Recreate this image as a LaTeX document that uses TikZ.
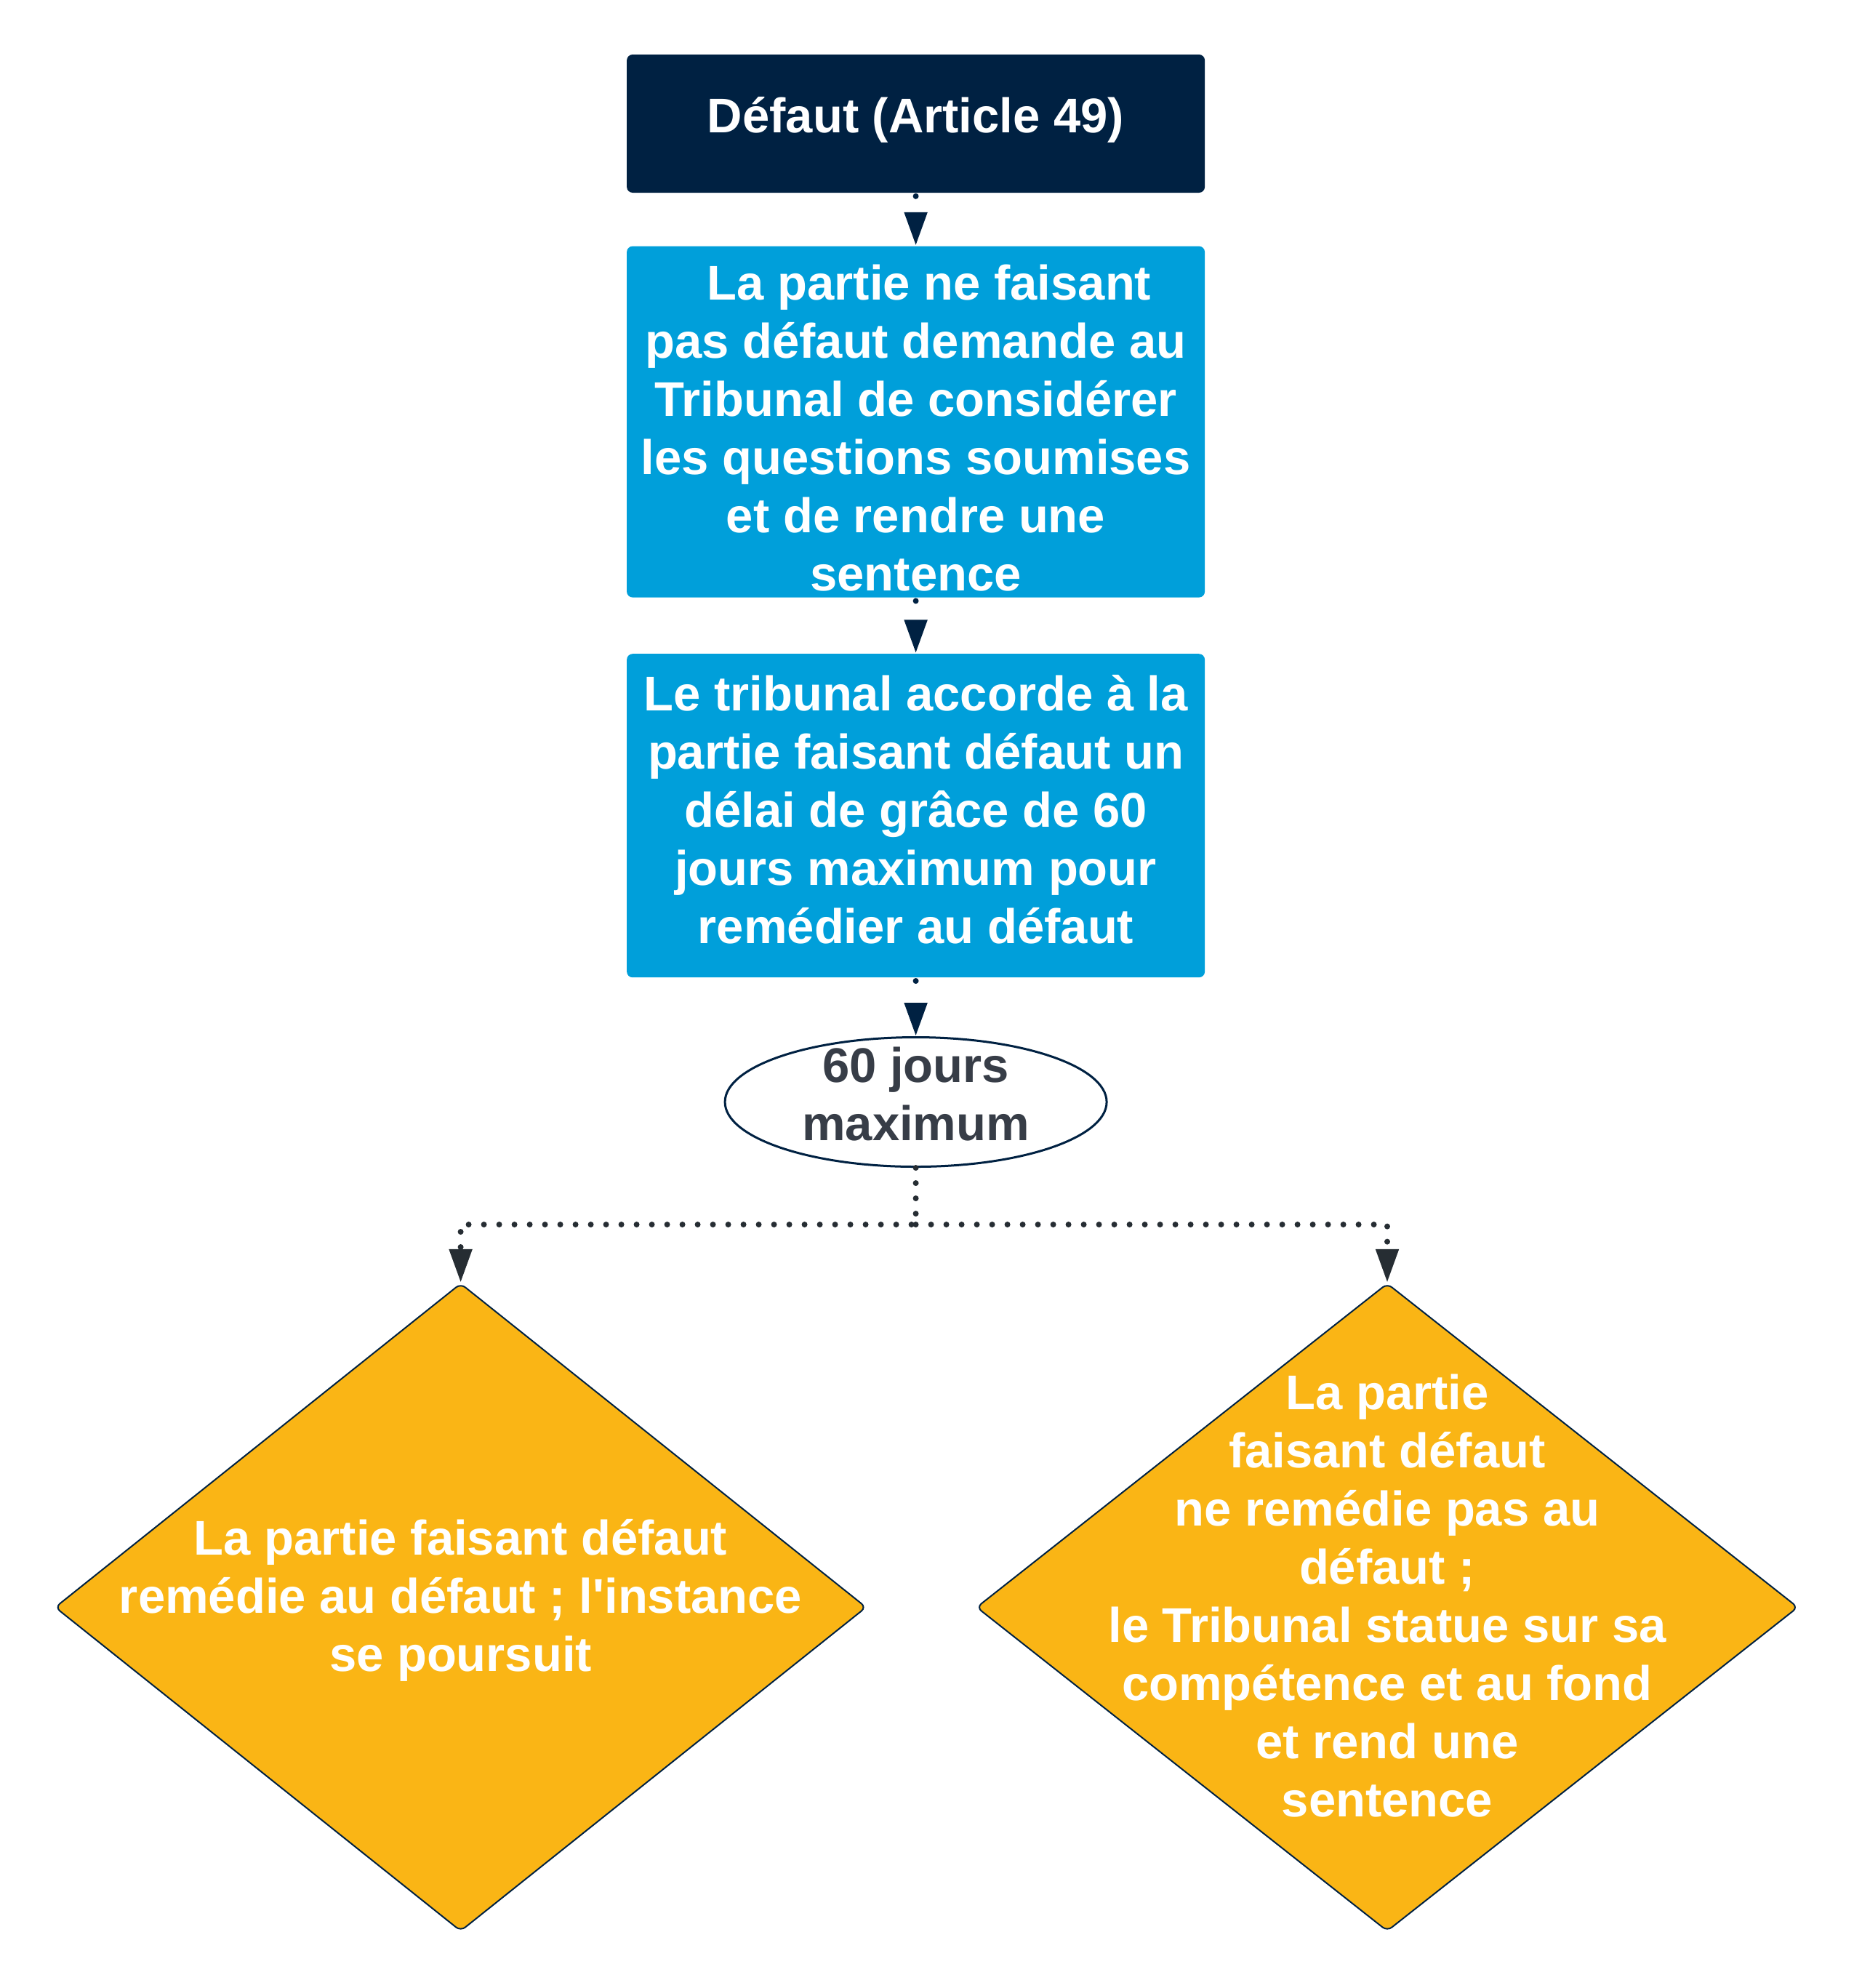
\documentclass[tikz,border=0pt]{standalone}
\usepackage{fontspec}
\setmainfont{Liberation Sans}
\usepackage{tikz}
\usetikzlibrary{positioning, shapes.geometric, arrows.meta}

\definecolor{navy}{HTML}{002142}
\definecolor{skyblue}{HTML}{009FDA}
\definecolor{gold}{HTML}{FAB515}
\definecolor{ink}{HTML}{373D47}
\definecolor{tipgray}{HTML}{262D33}

\tikzset{
	txt/.style={font=\bfseries\fontsize{16.75}{20}\selectfont, align=center},
	box/.style={rectangle, rounded corners=2pt, inner sep=0pt, minimum width=198.75pt},
	dec/.style={shape=diamond, draw=navy, line width=0.5pt, fill=gold, rounded corners=2pt,
		minimum height=222.75pt, inner sep=0pt},
	link/.style={draw=#1, line width=2pt, line cap=round, dash pattern=on 0pt off 5.25pt,
		-{Triangle[length=11.5pt, width=7.5pt, fill=#1, color=#1]}},
	link/.default=navy,
	hop/.style={link, dash pattern=on 0pt off 40pt}
}

\begin{document}
\begin{tikzpicture}
	\useasboundingbox (0,0) rectangle (637.5pt,-683.5pt);

	\node[box, fill=navy, minimum height=47.5pt,
		label={[txt, text=white, yshift=1.3pt]center:Défaut (Article 49)}] (defaut) at (314.9pt,-42.5pt) {};
	\node[box, fill=skyblue, minimum height=120.75pt, below=18pt of defaut,
		label={[txt, text=white, yshift=-2.2pt]center:\hspace*{0.55em}La partie ne faisant\\ pas défaut demande au\\ Tribunal de considérer\\ les questions soumises\\ et de rendre une\\ sentence}] (demande) {};
	\node[box, fill=skyblue, minimum height=111.25pt, below=19pt of demande,
		label={[txt, text=white, yshift=2pt]center:Le tribunal accorde à la\\ partie faisant défaut un\\ délai de grâce de 60\\ jours maximum pour\\ remédier au défaut}] (delai) {};
	\node[ellipse, draw=navy, line width=0.75pt, fill=white, minimum width=131.25pt,
		minimum height=44.5pt, below=20pt of delai,
		label={[txt, text=ink, yshift=2.7pt]center:60 jours\\ maximum}] (jours) {};

	\node[dec, minimum width=279pt,
		label={[txt, text=white, yshift=2.5pt]center:La partie faisant défaut\\ remédie au défaut ; l\textquotesingle instance\\ se poursuit}] (remedie) at (158.4pt,-552.6pt) {};
	\node[dec, minimum width=282.5pt,
		label={[txt, text=white, yshift=4pt]center:La partie\\ faisant défaut\\ ne remédie pas au\\ défaut ;\\ le Tribunal statue sur sa\\ compétence et au fond\\ et rend une\\ sentence}] (statue) at (477pt,-552.6pt) {};

	\draw[hop] ([yshift=-1pt]defaut.south) -- (demande);
	\draw[hop] ([yshift=-1pt]demande.south) -- (delai);
	\draw[hop] ([yshift=-1pt]delai.south) -- (jours);

	\coordinate[below=19.5pt of jours.south] (fork);
	\draw[link=tipgray] (jours.south) -- (fork) -| (remedie.north);
	\draw[link=tipgray] (fork) -| (statue.north);
\end{tikzpicture}
\end{document}
